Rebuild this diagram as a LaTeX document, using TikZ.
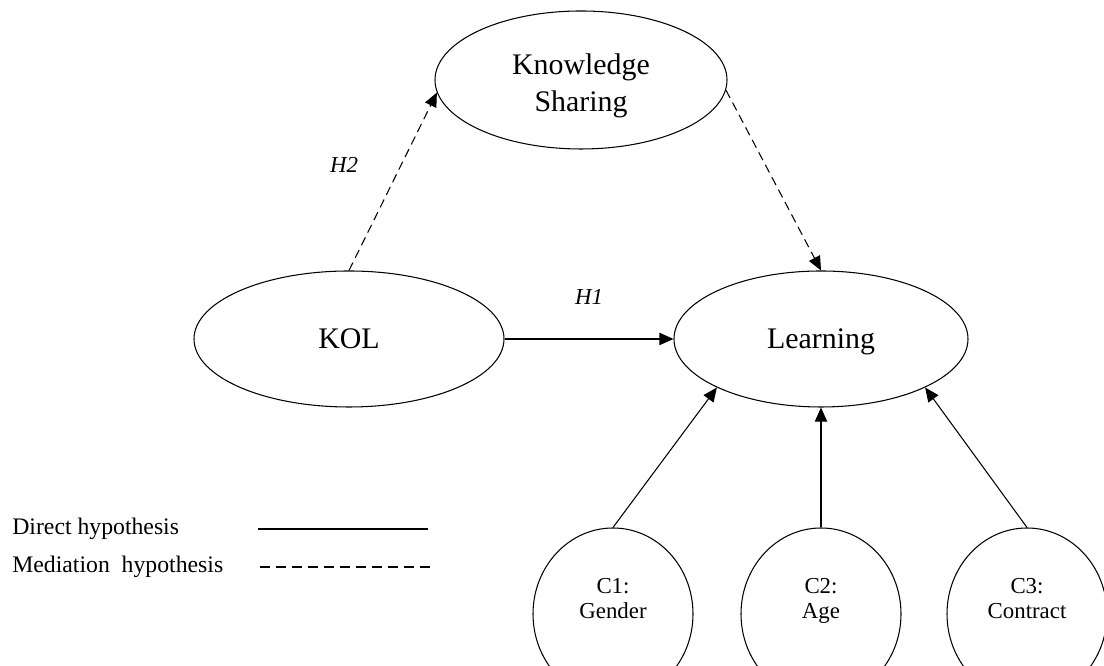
\documentclass[tikz,border=0pt]{standalone}
\usepackage{fontspec}
\setmainfont{Liberation Serif}
\usepackage{tikz}
\usetikzlibrary{shapes, arrows.meta, positioning}

\newcommand{\ctrltext}[2]{\raisebox{0.26cm}[\height][\depth]{\begin{tabular}{@{}c@{}}#1\\#2\strut\end{tabular}}}

\tikzset{
  latent/.style={draw, ellipse, line width=0.6pt, inner sep=0pt, align=center,
    font=\fontsize{17}{22}\selectfont},
  control/.style={draw, ellipse, line width=0.6pt, inner sep=0pt,
    minimum width=3.2cm, minimum height=3.44cm, font=\fontsize{13}{14.4}\selectfont},
  direct/.style={line width=0.6pt, -{Triangle[length=8pt, width=7pt]}},
  mediate/.style={direct, dash pattern=on 5pt off 3pt},
  hyplabel/.style={inner sep=0pt, font=\fontsize{13}{15}\selectfont\itshape},
  legtext/.style={inner sep=0pt, anchor=west, font=\fontsize{13.5}{16}\selectfont}
}

\begin{document}
\begin{tikzpicture}
  \useasboundingbox (0,0) rectangle (22.08,13.32);

  % constructs
  \node[latent, minimum width=5.84cm, minimum height=2.76cm] (ks) at (11.62,11.72)
    {\raisebox{-0.1cm}[\height][\depth]{\begin{tabular}{@{}c@{}}Knowledge\\[-1pt]Sharing\end{tabular}}};
  \node[latent, minimum width=6.2cm, minimum height=2.72cm] (kol) at (6.98,6.54) {KOL};
  \node[latent, minimum width=5.88cm, minimum height=2.72cm, text depth=0pt] (learn) at (16.42,6.54) {Learning};

  % control variables
  \node[control] (c1) at (12.26,1.04) {\ctrltext{C1:}{Gender}};
  \node[control] (c2) at (16.42,1.04) {\ctrltext{C2:}{Age}};
  \node[control] (c3) at (20.54,1.04) {\ctrltext{C3:}{Contract}};

  % hypotheses
  \draw[direct] (kol.east) -- node[midway, above=0.68cm, hyplabel] (h1) {H1} (learn.west);
  \draw[mediate] (kol.north) -- (ks.185);
  \draw[mediate] (ks.-4) -- (learn.north);
  \node[hyplabel] (h2) at (6.88,10.02) {H2};

  \draw[direct] (c1.north) -- (learn.205);
  \draw[direct] (c2.north) -- (learn.south);
  \draw[direct] (c3.north) -- (learn.335);

  % legend
  \node[legtext] (dirtxt) at (0.24,2.74) {Direct hypothesis};
  \node[legtext] (medtxt) at (0.24,1.98) {Mediation~~hypothesis};
  \coordinate (d1) at (5.16,2.74);
  \coordinate (d2) at (8.56,2.74);
  \coordinate (m1) at (5.2,1.98);
  \coordinate (m2) at (8.64,1.98);
  \draw[line width=0.6pt] (d1) -- (d2);
  \draw[line width=0.6pt, dash pattern=on 5.7pt off 3.4pt] (m1) -- (m2);
\end{tikzpicture}
\end{document}
